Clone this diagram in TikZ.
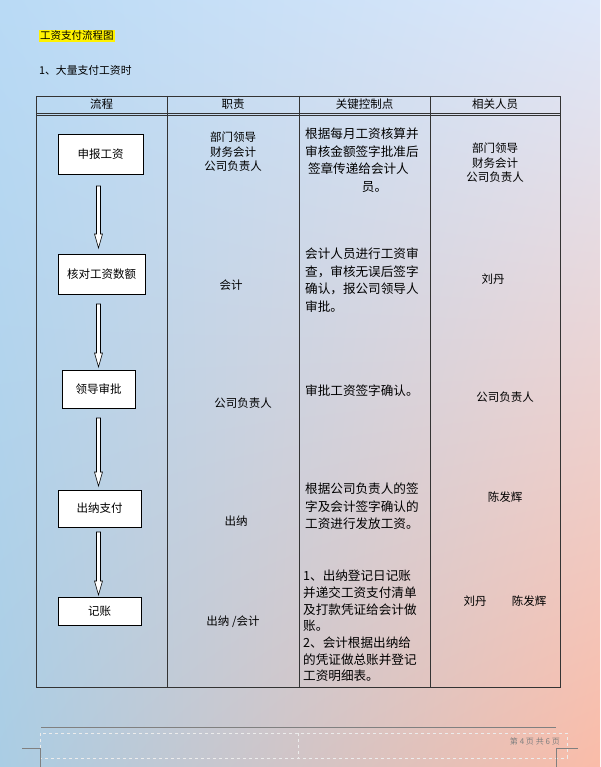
\documentclass[tikz,border=0pt]{standalone}
\usepackage{fontspec}
\usetikzlibrary{shadings}
\setmainfont{Noto Sans CJK SC}
\definecolor{cul}{RGB}{185,218,245}
\definecolor{cur}{RGB}{222,232,250}
\definecolor{cll}{RGB}{170,205,228}
\definecolor{clr}{RGB}{250,188,168}
\begin{document}
\begin{tikzpicture}[x=1pt,y=-1pt,
  txt/.style={font=\fontsize{11.5}{14.5}\selectfont, align=center, inner sep=0pt},
  ktxt/.style={font=\fontsize{12.6}{17.5}\selectfont, align=left, inner sep=0pt, anchor=north west},
  boxn/.style={draw, fill=white, line width=0.8pt, minimum height=38pt, inner sep=0pt, font=\fontsize{11.5}{13.5}\selectfont},
  blk/.style={draw, fill=white, line width=0.6pt},
  grid/.style={line width=0.9pt, draw=black!80}]
\useasboundingbox (0,0) rectangle (600,767);
\shade[upper left=cul, upper right=cur, lower left=cll, lower right=clr] (0,0) rectangle (600,767);
% title
\node[fill=yellow, inner sep=1pt, anchor=west, font=\fontsize{10.5}{12}\selectfont] (title) at (39,36) {工资支付流程图};
\node[anchor=west, txt, font=\fontsize{10.8}{13}\selectfont] (sub) at (39,70) {1、大量支付工资时};
% table
\draw[grid] (36,96) rectangle (560,687);
\draw[grid] (36,113) -- (560,113);
\draw[grid, line width=0.4pt] (36,115) -- (560,115);
\foreach \x in {167,299,430} \draw[grid] (\x,96) -- (\x,687);
\node[txt] (h1) at (101.5,104) {流程};
\node[txt] (h2) at (233,104) {职责};
\node[txt] (h3) at (364.5,104) {关键控制点};
\node[txt] (h4) at (495,104) {相关人员};
% boxes
\node[boxn, minimum width=85pt, minimum height=40pt] (b1) at (100.5,154) {申报工资};
\node[boxn, minimum width=87pt, minimum height=40pt] (b2) at (101.5,274) {核对工资数额};
\node[boxn, minimum width=73pt, minimum height=38pt] (b3) at (98.5,389) {领导审批};
\node[boxn, minimum width=83pt, minimum height=37pt] (b4) at (99.5,508.5) {出纳支付};
\node[boxn, minimum width=83pt, minimum height=28pt] (b5) at (99.5,611) {记账};
% block arrows
\foreach \a/\b in {186/248, 304/367, 418/486, 532/595}{
  \draw[blk] (96.5,\a) -- (100.5,\a) -- (100.5,\b-14) -- (102.5,\b-14) -- (98.5,\b) -- (94.5,\b-14) -- (96.5,\b-14) -- cycle;
}
% column 2
\node[txt] (r1) at (233,152) {部门领导\\财务会计\\公司负责人};
\node[txt] (r2) at (231,285) {会计};
\node[txt] (r3) at (243,403) {公司负责人};
\node[txt] (r4) at (236,521) {出纳};
\node[txt] (r5) at (233,622) {出纳 /会计};
% column 3
\node[ktxt] (k1) at (305,128) {根据每月工资核算并\\审核金额签字批准后\\\ 签章传递给会计人\\\hspace*{4.5em}员。};
\node[ktxt] (k2) at (305,248) {会计人员进行工资审\\查，审核无误后签字\\确认，报公司领导人\\审批。};
\node[ktxt, anchor=west] (k3) at (305,391) {审批工资签字确认。};
\node[ktxt] (k4) at (305,483) {根据公司负责人的签\\字及会计签字确认的\\工资进行发放工资。};
\node[ktxt, font=\fontsize{12.6}{16.7}\selectfont] (k5) at (303,570) {1、出纳登记日记账\\并递交工资支付清单\\及打款凭证给会计做\\账。\\2、会计根据出纳给\\的凭证做总账并登记\\工资明细表。};
% column 4
\node[txt] (p1) at (495,163) {部门领导\\财务会计\\公司负责人};
\node[txt] (p2) at (493,279) {刘丹};
\node[txt] (p3) at (505,397) {公司负责人};
\node[txt] (p4) at (505,497) {陈发辉};
\node[txt] (p5) at (505,601) {刘丹\hspace{2.2em}陈发辉};
% footer
\draw[gray, line width=0.7pt] (41,727) -- (556,727);
\draw[white!85!gray, dashed, line width=0.4pt] (40,733) rectangle (567,758);
\draw[white!85!gray, dashed, line width=0.4pt] (298,733) -- (298,758);
\draw[gray, line width=0.4pt] (22,748) -- (40,748) (40,748) -- (40,770);
\draw[gray, line width=0.4pt] (556,748) -- (578,748) (556,748) -- (556,770);
\node[txt, anchor=east, text=gray, font=\fontsize{8}{10}\selectfont] (pg) at (560,741) {第\ 4\ 页\ 共\ 6\ 页};
\end{tikzpicture}
\end{document}
